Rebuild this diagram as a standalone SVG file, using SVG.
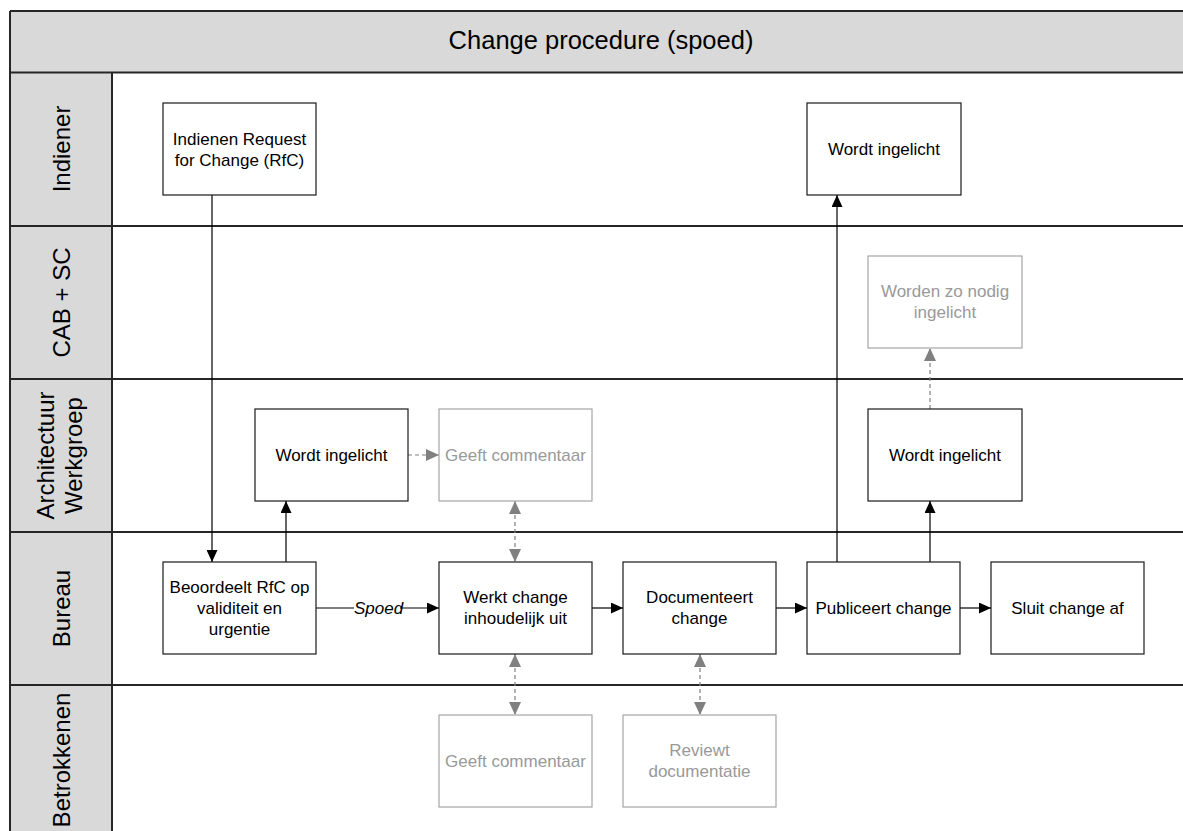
<svg xmlns="http://www.w3.org/2000/svg" width="1183" height="831" viewBox="0 0 1183 831">
<style>
.lane-line{stroke:#262626;stroke-width:2;fill:none}
.lbl{font-family:"Liberation Sans",Arial,sans-serif;font-size:24px;fill:#000;text-anchor:middle}
.box{fill:#fff;stroke:#1a1a1a;stroke-width:1.2}
.gbox{fill:#fff;stroke:#a6a6a6;stroke-width:1.2}
.t{font-family:"Liberation Sans",Arial,sans-serif;font-size:17px;fill:#000;text-anchor:middle}
.gt{font-family:"Liberation Sans",Arial,sans-serif;font-size:17px;fill:#999;text-anchor:middle}
.c{stroke:#000;stroke-width:1.2;fill:none}
.gc{stroke:#808080;stroke-width:1.2;fill:none;stroke-dasharray:4,3}
</style>
<defs>
<marker id="ah" markerUnits="userSpaceOnUse" markerWidth="12" markerHeight="11" viewBox="0 0 12 11" refX="12" refY="5.5" orient="auto"><path d="M0,0 L12,5.5 L0,11 z" fill="#000"/></marker>
<marker id="gah" markerUnits="userSpaceOnUse" markerWidth="13" markerHeight="12" viewBox="0 0 13 12" refX="13" refY="6" orient="auto-start-reverse"><path d="M0,0 L13,6 L0,12 z" fill="#808080"/></marker>
</defs>
<rect width="1183" height="831" fill="#fff"/>
<g id="frame">
<rect x="10" y="11" width="1183" height="61" fill="#d9d9d9"/>
<rect x="10" y="72" width="102" height="770" fill="#d9d9d9"/>
<path class="lane-line" d="M10,11 H1190 M10,11 V840 M10,72.5 H1190 M112,72 V840 M10,226 H1190 M10,379 H1190 M10,532 H1190 M10,685 H1190"/>
<text class="lbl" x="601" y="49" style="font-size:25.5px">Change procedure (spoed)</text>
<text class="lbl" transform="translate(61,149) rotate(-90)" y="8.5">Indiener</text>
<text class="lbl" transform="translate(61,302.5) rotate(-90)" y="8.5">CAB + SC</text>
<text class="lbl" transform="translate(61,455.5) rotate(-90)" y="-7.5"><tspan x="0">Architectuur</tspan><tspan x="0" dy="28">Werkgroep</tspan></text>
<text class="lbl" transform="translate(61,608.5) rotate(-90)" y="8.5">Bureau</text>
<text class="lbl" transform="translate(61,760) rotate(-90)" y="8.5">Betrokkenen</text>
</g>
<g id="connectors">
<path class="c" d="M212,195 V562" marker-end="url(#ah)"/>
<path class="c" d="M286,562 V501" marker-end="url(#ah)"/>
<path class="gc" d="M408,455 H439" marker-end="url(#gah)"/>
<path class="gc" d="M515,501 V562" marker-start="url(#gah)" marker-end="url(#gah)"/>
<path class="c" d="M316,608 H439" marker-end="url(#ah)"/>
<rect x="354" y="596" width="46" height="22" fill="#fff"/>
<text x="354" y="614" font-family="Liberation Sans, Arial, sans-serif" font-size="17" font-style="italic">Spoed</text>
<path class="c" d="M592,608 H623" marker-end="url(#ah)"/>
<path class="c" d="M776,608 H807" marker-end="url(#ah)"/>
<path class="c" d="M960,608 H991" marker-end="url(#ah)"/>
<path class="gc" d="M515,654 V715" marker-start="url(#gah)" marker-end="url(#gah)"/>
<path class="gc" d="M700,654 V715" marker-start="url(#gah)" marker-end="url(#gah)"/>
<path class="c" d="M837,562 V195" marker-end="url(#ah)"/>
<path class="c" d="M930,562 V501" marker-end="url(#ah)"/>
<path class="gc" d="M930,409 V348" marker-end="url(#gah)"/>
</g>
<g id="n-indienen"><rect class="box" x="163" y="103" width="153" height="92"/><text class="t" x="239.5" y="145"><tspan x="239.5">Indienen Request</tspan><tspan x="239.5" dy="21">for Change (RfC)</tspan></text></g>
<g id="n-indiener-ingelicht"><rect class="box" x="807" y="103" width="154" height="92"/><text class="t" x="884" y="155">Wordt ingelicht</text></g>
<g id="n-cab"><rect class="gbox" x="868" y="256" width="154" height="92"/><text class="gt" x="945" y="297"><tspan x="945">Worden zo nodig</tspan><tspan x="945" dy="21">ingelicht</tspan></text></g>
<g id="n-arch-ingelicht"><rect class="box" x="255" y="409" width="153" height="92"/><text class="t" x="331.5" y="461">Wordt ingelicht</text></g>
<g id="n-arch-commentaar"><rect class="gbox" x="439" y="409" width="153" height="92"/><text class="gt" x="515.5" y="461">Geeft commentaar</text></g>
<g id="n-arch-ingelicht2"><rect class="box" x="868" y="409" width="154" height="92"/><text class="t" x="945" y="461">Wordt ingelicht</text></g>
<g id="n-beoordeelt"><rect class="box" x="163" y="562" width="153" height="92"/><text class="t" x="239.5" y="592.5"><tspan x="239.5">Beoordeelt RfC op</tspan><tspan x="239.5" dy="21">validiteit en</tspan><tspan x="239.5" dy="21">urgentie</tspan></text></g>
<g id="n-werkt"><rect class="box" x="439" y="562" width="153" height="92"/><text class="t" x="515.5" y="603"><tspan x="515.5">Werkt change</tspan><tspan x="515.5" dy="21">inhoudelijk uit</tspan></text></g>
<g id="n-documenteert"><rect class="box" x="623" y="562" width="153" height="92"/><text class="t" x="699.5" y="603"><tspan x="699.5">Documenteert</tspan><tspan x="699.5" dy="21">change</tspan></text></g>
<g id="n-publiceert"><rect class="box" x="807" y="562" width="153" height="92"/><text class="t" x="883.5" y="614">Publiceert change</text></g>
<g id="n-sluit"><rect class="box" x="991" y="562" width="153" height="92"/><text class="t" x="1067.5" y="614">Sluit change af</text></g>
<g id="n-betr-commentaar"><rect class="gbox" x="439" y="715" width="153" height="92"/><text class="gt" x="515.5" y="767">Geeft commentaar</text></g>
<g id="n-reviewt"><rect class="gbox" x="623" y="715" width="153" height="92"/><text class="gt" x="699.5" y="756"><tspan x="699.5">Reviewt</tspan><tspan x="699.5" dy="21">documentatie</tspan></text></g>
</svg>
